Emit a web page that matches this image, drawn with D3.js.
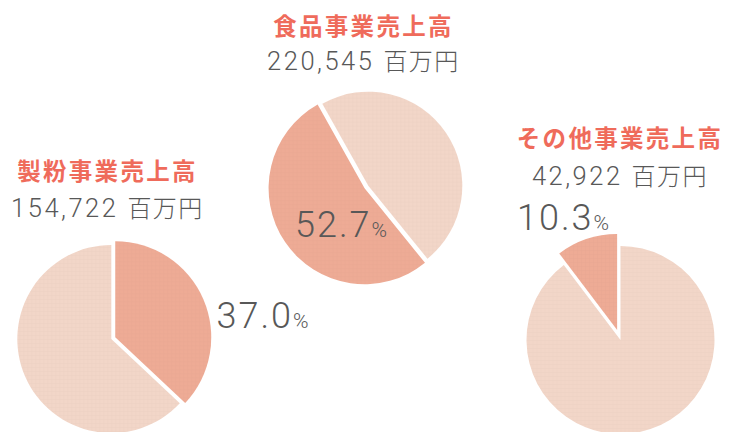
<!DOCTYPE html>
<html>
<head>
<meta charset="utf-8">
<script src="https://cdn.jsdelivr.net/npm/d3@7"></script>
<style>
  html, body { margin: 0; padding: 0; background: #fff; }
  svg { display: block; }
</style>
</head>
<body>
<div id="chart"></div>
<script>
// Segment data
const segments = ["製粉事業売上高", "食品事業売上高", "その他事業売上高"];
const sales = [154722, 220545, 42922];   // 百万円
const shares = [37.0, 52.7, 10.3];       // % of total
const unit = "百万円";

// Per-pie layout (positions only)
const layout = [
  { cx: 111.3, cy: 339, startDeg: 0, explode: 4.3, textX: 107.5, titleY: 180, valueY: 216.5, labelX: 216.5, labelY: 328 },
  { cx: 368.3, cy: 185.7, startDeg: 141, explode: 4.5, textX: 363.5, titleY: 34.5, valueY: 70, labelX: 295, labelY: 236.5 },
  { cx: 620.5, cy: 340, startDeg: -37.1, explode: 10.5, textX: 620, titleY: 147, valueY: 185, labelX: 517, labelY: 229.5 }
];

const width = 729, height = 432;
const rLight = 94, rDark = 96;
const colourDark = "#eeab95";
const colourLight = "#f2d6c8";
const titleColour = "#ef6b5b";
const textColour = "#585858";
const numFont = "Roboto, 'Liberation Sans', sans-serif";
const jpFont = "'Noto Sans CJK JP', sans-serif";

const svg = d3.select("#chart")
  .append("svg")
  .attr("width", width)
  .attr("height", height);

// Faint linen texture over the slices
const defs = svg.append("defs");
[["dark", colourDark], ["light", colourLight]].forEach(([key, c]) => {
  const p = defs.append("pattern")
    .attr("id", "tex-" + key)
    .attr("width", 4).attr("height", 4)
    .attr("patternUnits", "userSpaceOnUse");
  p.append("rect").attr("width", 4).attr("height", 4).attr("fill", c);
  p.append("path").attr("d", "M0,0.5H4M0.5,0V4")
    .attr("stroke", d3.color(c).darker(0.12)).attr("stroke-width", 0.6).attr("opacity", 0.5);
});

const fmt = d3.format(",");

segments.forEach((name, i) => {
  const L = layout[i];
  const s = L.startDeg * Math.PI / 180;
  const pie = d3.pie().sort(null).startAngle(s).endAngle(s + 2 * Math.PI);
  const arcs = pie([shares[i], 100 - shares[i]]);

  const g = svg.append("g").attr("transform", `translate(${L.cx},${L.cy})`);

  // rest of the company
  g.append("path")
    .attr("d", d3.arc().innerRadius(0).outerRadius(rLight)(arcs[1]))
    .attr("fill", "url(#tex-light)");

  // this segment, pulled out a little
  const a = arcs[0];
  const mid = (a.startAngle + a.endAngle) / 2;
  g.append("path")
    .attr("d", d3.arc().innerRadius(0).outerRadius(rDark)(a))
    .attr("transform", `translate(${Math.sin(mid) * L.explode},${-Math.cos(mid) * L.explode})`)
    .attr("fill", "url(#tex-dark)");

  // Title
  svg.append("text")
    .attr("x", L.textX).attr("y", L.titleY)
    .attr("text-anchor", "middle")
    .style("font-family", jpFont)
    .style("font-weight", 700)
    .style("font-size", "23.5px")
    .style("letter-spacing", "2.3px")
    .attr("fill", titleColour)
    .text(name);

  // Sales value
  const v = svg.append("text")
    .attr("x", L.textX).attr("y", L.valueY)
    .attr("text-anchor", "middle")
    .attr("fill", textColour);
  v.append("tspan")
    .style("font-family", numFont)
    .style("font-weight", 300)
    .style("font-size", "25.5px")
    .style("letter-spacing", "2.5px")
    .text(fmt(sales[i]));
  v.append("tspan")
    .attr("dx", 9)
    .style("font-family", jpFont)
    .style("font-weight", 300)
    .style("font-size", "24px")
    .style("letter-spacing", "1.5px")
    .text(unit);

  // Share label
  const p = svg.append("text")
    .attr("x", L.labelX).attr("y", L.labelY)
    .attr("fill", textColour);
  p.append("tspan")
    .style("font-family", numFont)
    .style("font-weight", 300)
    .style("font-size", "36px")
    .style("letter-spacing", "2px")
    .text(shares[i].toFixed(1));
  p.append("tspan")
    .style("font-family", numFont)
    .style("font-weight", 300)
    .style("font-size", "21px")
    .text("%");
});
</script>
</body>
</html>
